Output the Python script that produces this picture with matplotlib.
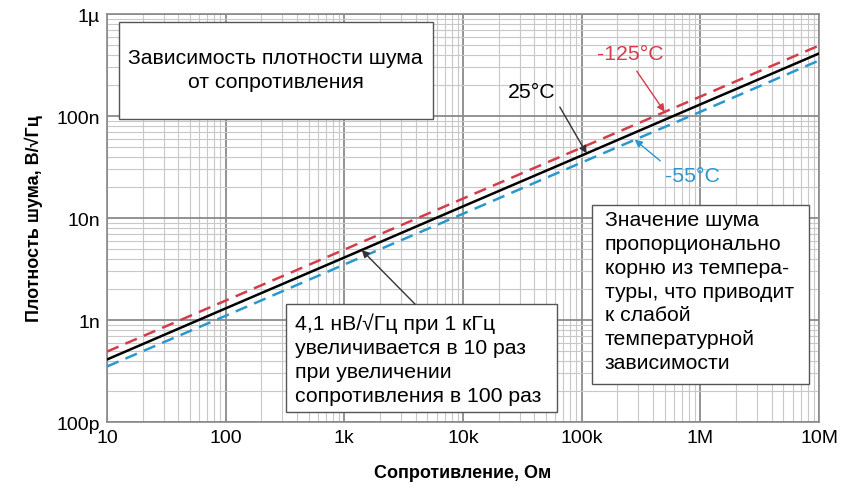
import matplotlib
matplotlib.use("Agg")
import matplotlib.pyplot as plt
from matplotlib.patches import Rectangle
from matplotlib.ticker import FixedLocator, LogLocator, NullFormatter

plt.rcParams['font.family'] = ['Liberation Sans', 'DejaVu Sans']

# resistance decades and noise density for each temperature
resistance = [10, 100, 1e3, 1e4, 1e5, 1e6, 1e7]
noise_25 = [0.41e-9, 1.3e-9, 4.1e-9, 13e-9, 41e-9, 130e-9, 410e-9]
noise_125 = [0.49e-9, 1.55e-9, 4.9e-9, 15.5e-9, 49e-9, 155e-9, 490e-9]
noise_55 = [0.35e-9, 1.1e-9, 3.5e-9, 11e-9, 35e-9, 110e-9, 350e-9]

x_ticks = [10, 100, 1e3, 1e4, 1e5, 1e6, 1e7]
x_labels = ['10', '100', '1k', '10k', '100k', '1M', '10M']
y_ticks = [1e-10, 1e-9, 1e-8, 1e-7, 1e-6]
y_labels = ['100p', '1n', '10n', '100n', '1µ']

RED = '#d43c4a'
BLUE = '#2a98cf'
EDGE = '#555555'
FS = 15.3
LS = 1.32

fig = plt.figure(figsize=(8.48, 4.89), dpi=100)
ax = fig.add_axes([107/848, 66/489, 712/848, 408/489])
ax.set_xscale('log')
ax.set_yscale('log')
ax.set_xlim(10, 1e7)
ax.set_ylim(1e-10, 1e-6)

ax.xaxis.set_major_locator(FixedLocator(x_ticks))
ax.set_xticklabels(x_labels)
ax.yaxis.set_major_locator(FixedLocator(y_ticks))
ax.set_yticklabels(y_labels)
ax.xaxis.set_minor_locator(LogLocator(base=10, subs=range(2, 10), numticks=20))
ax.yaxis.set_minor_locator(LogLocator(base=10, subs=range(2, 10), numticks=20))
ax.xaxis.set_minor_formatter(NullFormatter())
ax.yaxis.set_minor_formatter(NullFormatter())
ax.tick_params(which='both', length=0, labelsize=14)
ax.tick_params(axis='x', pad=5)
ax.tick_params(axis='y', pad=5)

ax.grid(which='major', color='#8a8a8a', lw=1.3)
ax.grid(which='minor', color='#c8c8c8', lw=0.8)
ax.set_axisbelow(True)
for sp in ax.spines.values():
    sp.set_color('#8a8a8a')
    sp.set_linewidth(1.2)

ax.plot(resistance, noise_125, color=RED, lw=1.8, dashes=(5, 3), zorder=3)
ax.plot(resistance, noise_55, color=BLUE, lw=1.8, dashes=(5, 3), zorder=3)
ax.plot(resistance, noise_25, color='black', lw=1.8, zorder=4)

ax.set_xlabel('Сопротивление, Ом', fontsize=13, fontweight='bold', labelpad=13)
ax.set_ylabel('Плотность шума, В/√Гц', fontsize=13, fontweight='bold', labelpad=10)

# text boxes
boxes = [
    (0.017, 0.743, 0.441, 0.237),
    (0.681, 0.093, 0.305, 0.439),
    (0.251, 0.025, 0.381, 0.264),
]
for x0, y0, w, h in boxes:
    ax.add_patch(Rectangle((x0, y0), w, h, transform=ax.transAxes,
                           facecolor='white', edgecolor=EDGE, lw=1.0, zorder=5))

ax.text(0.237, 0.863, 'Зависимость плотности шума\nот сопротивления',
        transform=ax.transAxes, ha='center', va='center', fontsize=FS,
        linespacing=LS, zorder=6)
ax.text(0.699, 0.519, 'Значение шума\nпропорционально\nкорню из темпера-\n'
        'туры, что приводит\nк слабой\nтемпературной\nзависимости',
        transform=ax.transAxes, ha='left', va='top', fontsize=FS,
        linespacing=LS, zorder=6)
ax.text(0.264, 0.268, '4,1 нВ/√Гц при 1 кГц\nувеличивается в 10 раз\n'
        'при увеличении\nсопротивления в 100 раз',
        transform=ax.transAxes, ha='left', va='top', fontsize=FS,
        linespacing=LS, zorder=6)

# curve labels with arrows
ax.text(0.597, 0.811, '25°C', transform=ax.transAxes, ha='center',
        va='center', fontsize=FS, zorder=6)
ax.text(0.735, 0.902, '-125°C', transform=ax.transAxes, ha='center',
        va='center', fontsize=FS, color=RED, zorder=6)
ax.text(0.822, 0.603, '-55°C', transform=ax.transAxes, ha='center',
        va='center', fontsize=FS, color=BLUE, zorder=6)

arrows = [
    ((1.1e5, 43e-9), (0.636, 0.772), '#333333'),
    ((5.0e5, 110e-9), (0.744, 0.860), RED),
    ((2.8e5, 58.6e-9), (0.777, 0.640), BLUE),
    ((1.4e3, 4.86e-9), (0.4326, 0.289), '#333333'),
]
for tip, start, col in arrows:
    ax.annotate('', xy=tip, xycoords='data', xytext=start,
                textcoords='axes fraction',
                arrowprops=dict(arrowstyle='-|>', color=col, lw=1.0,
                                mutation_scale=11, shrinkA=0, shrinkB=0),
                zorder=6)

fig.savefig('out.png', dpi=100)
